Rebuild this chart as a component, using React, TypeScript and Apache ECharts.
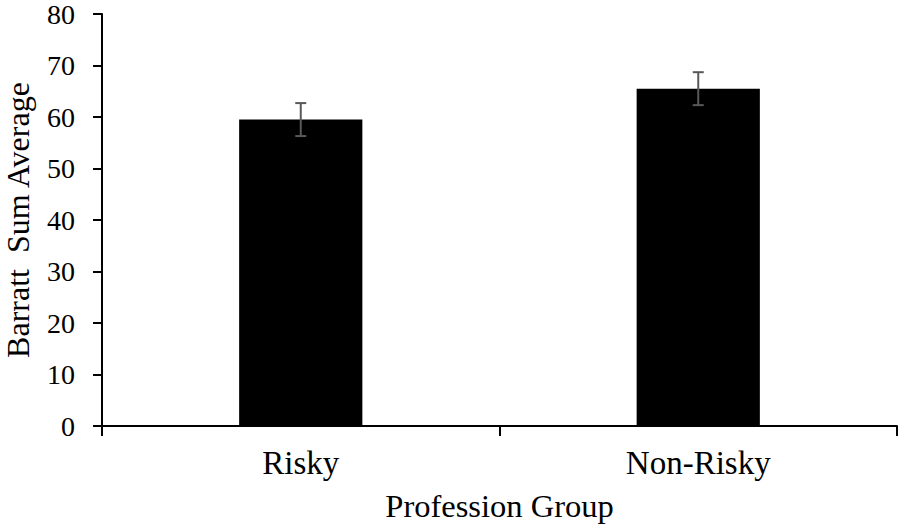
import React, { useEffect, useRef } from "react";
import * as echarts from "echarts";

const categories = ["Risky", "Non-Risky"];
const means = [59.5, 65.5];
const errors = [3.2, 3.2];
const yTicks = { min: 0, max: 80, interval: 10 };

const FONT = "'Liberation Serif', 'Times New Roman', serif";

export default function App() {
  const ref = useRef<HTMLDivElement>(null);
  useEffect(() => {
    const chart = echarts.init(ref.current!, null, { renderer: "svg" });
    const errData = categories.map((c, i) => [i, means[i] - errors[i], means[i] + errors[i]]);
    chart.setOption({
      animation: false,
      backgroundColor: "#fff",
      grid: { left: 102, right: 2, top: 14, bottom: 99, containLabel: false, outerBoundsMode: "none" },
      xAxis: {
        type: "category",
        data: categories,
        name: "Profession Group",
        nameLocation: "middle",
        nameGap: 63,
        nameTextStyle: { fontFamily: FONT, fontSize: 32.5, color: "#000" },
        axisLine: { show: true, lineStyle: { color: "#000", width: 2 } },
        axisTick: { show: true, length: 10, lineStyle: { color: "#000", width: 2 } },
        axisLabel: { fontFamily: FONT, fontSize: 33, color: "#000", margin: 20 },
      },
      yAxis: {
        type: "value",
        min: yTicks.min,
        max: yTicks.max,
        interval: yTicks.interval,
        name: "Barratt  Sum Average",
        nameLocation: "middle",
        nameGap: 68,
        nameTextStyle: { fontFamily: FONT, fontSize: 32, color: "#000" },
        axisLine: { show: true, lineStyle: { color: "#000", width: 2 } },
        axisTick: { show: true, length: 9, lineStyle: { color: "#000", width: 2 } },
        axisLabel: { fontFamily: FONT, fontSize: 28, color: "#000", margin: 27 },
        splitLine: { show: false },
      },
      series: [
        {
          type: "bar",
          data: means,
          barWidth: "31%",
          itemStyle: { color: "#000" },
        },
        {
          type: "custom",
          data: errData,
          z: 10,
          renderItem: (params: any, api: any) => {
            const x = api.value(0);
            const lo = api.coord([x, api.value(1)]);
            const hi = api.coord([x, api.value(2)]);
            const hw = 5.5;
            const style = { stroke: "#595959", lineWidth: 2 };
            return {
              type: "group",
              children: [
                { type: "line", shape: { x1: hi[0], y1: hi[1], x2: lo[0], y2: lo[1] }, style },
                { type: "line", shape: { x1: hi[0] - hw, y1: hi[1], x2: hi[0] + hw, y2: hi[1] }, style },
                { type: "line", shape: { x1: lo[0] - hw, y1: lo[1], x2: lo[0] + hw, y2: lo[1] }, style },
              ],
            };
          },
        },
      ],
    });
    return () => chart.dispose();
  }, []);
  return <div ref={ref} style={{ width: 899, height: 525, position: "absolute", left: 0, top: 0 }} />;
}
